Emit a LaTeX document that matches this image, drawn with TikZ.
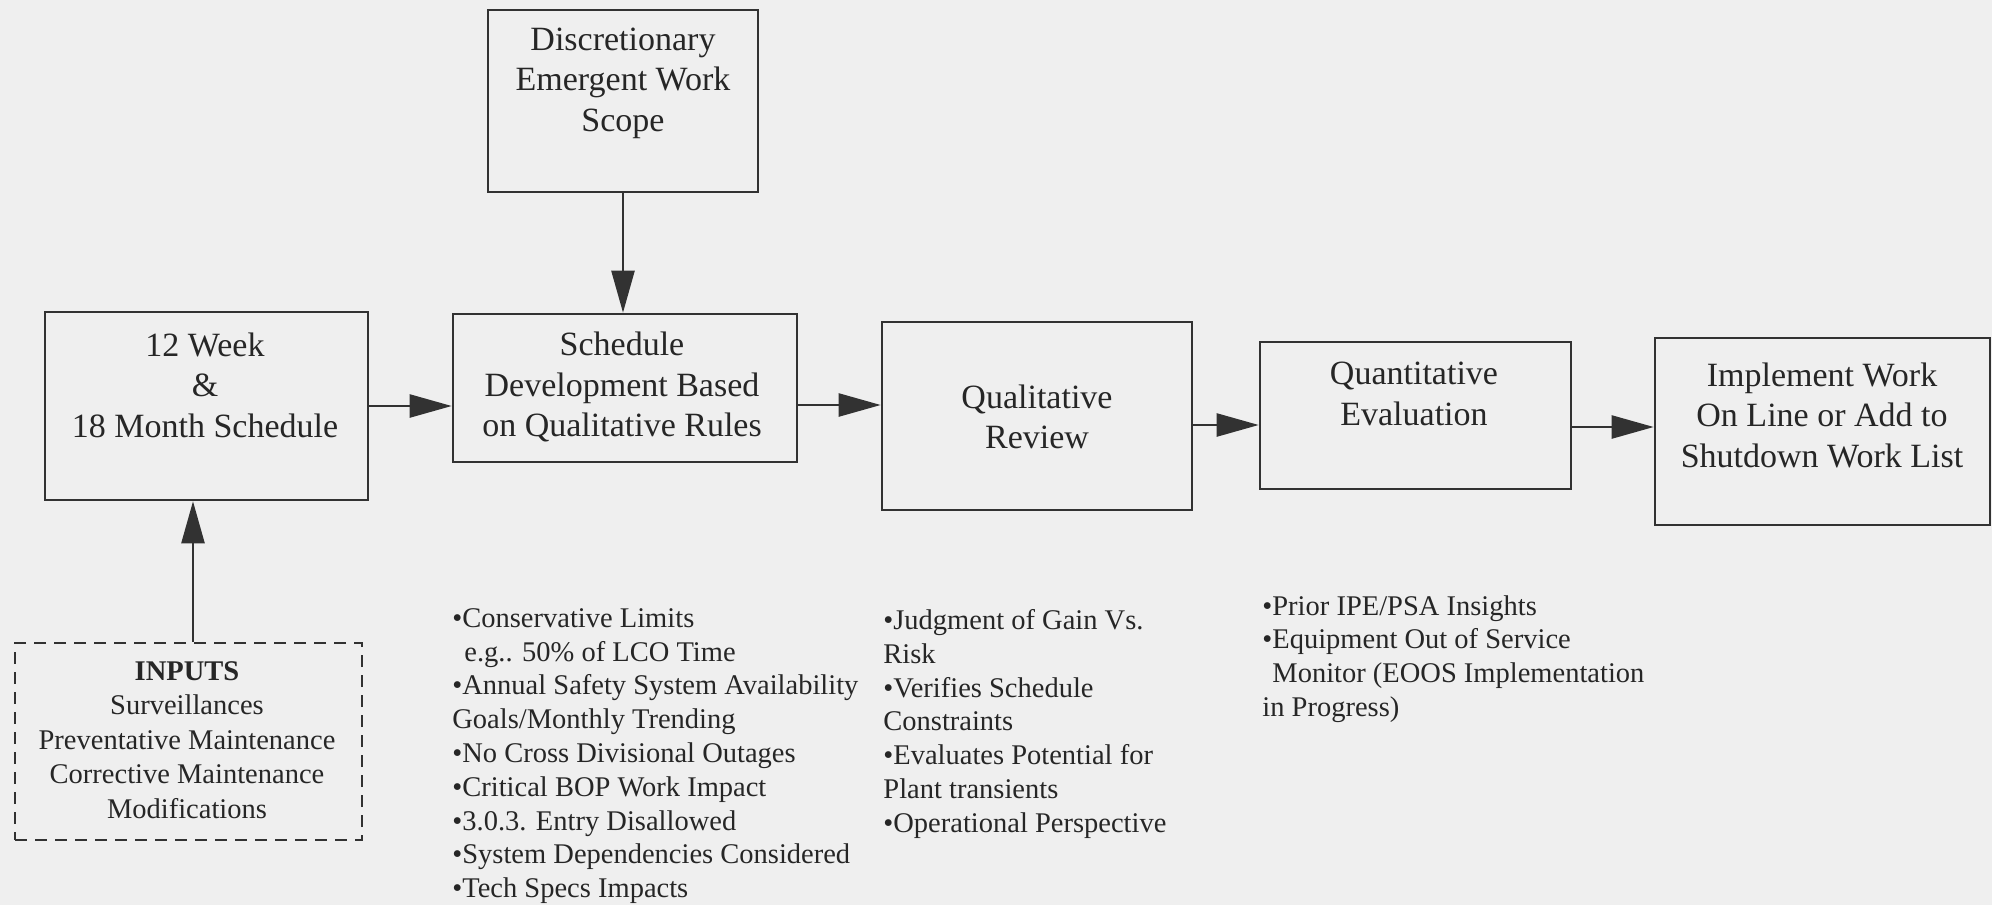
\documentclass[tikz,border=0pt]{standalone}
\usepackage{fontspec}
\setmainfont{Liberation Serif}
\usetikzlibrary{arrows.meta}
\definecolor{bg}{RGB}{239,239,239}
\definecolor{ink}{RGB}{50,50,50}
\definecolor{txt}{RGB}{38,38,38}
\tikzset{
  box/.style={draw=ink, line width=1.3pt, rectangle, inner sep=0pt},
  boxtext/.style={text=txt, align=center, inner sep=0pt, font=\fontsize{17}{20.25}\selectfont},
  listtext/.style={text=txt, align=left, inner sep=0pt, anchor=north west, font=\fontsize{14.25}{16.9}\selectfont},
  arr/.style={draw=ink, line width=1.2pt, -{Triangle[length=21pt,width=11.5pt]}},
  inbox/.style={draw=ink, line width=1.3pt, dash pattern=on 6pt off 4pt, rectangle, inner sep=0pt},
}
\begin{document}
\begin{tikzpicture}[x=0.5pt,y=-0.5pt]
\fill[bg] (0,0) rectangle (1992,905);
\useasboundingbox (0,0) rectangle (1992,905);

% boxes
\node[box, minimum width=135pt, minimum height=91pt] (disc) at (623,101) {};
\node[box, minimum width=161.5pt, minimum height=94pt] (wk) at (206.5,406) {};
\node[box, minimum width=172pt, minimum height=74pt] (sched) at (625,388) {};
\node[box, minimum width=155pt, minimum height=94pt] (qual) at (1037,416) {};
\node[box, minimum width=155.5pt, minimum height=73.5pt] (quant) at (1415.5,415.5) {};
\node[box, minimum width=167.5pt, minimum height=93.5pt] (impl) at (1822.5,431.5) {};
\node[inbox, minimum width=173.5pt, minimum height=98.5pt] (inputs) at (188.5,741.5) {};

% box texts
\node[boxtext] (disct) at (623,83) {Discretionary\\Emergent Work\\Scope};
\node[boxtext] (wkt) at (205,385) {12 Week\\\&\\18 Month Schedule};
\node[boxtext] (schedt) at (622,387) {Schedule\\Development Based\\on Qualitative Rules};
\node[boxtext] (qualt) at (1037,417) {Qualitative\\Review};
\node[boxtext] (quantt) at (1414,394) {Quantitative\\Evaluation};
\node[boxtext] (implt) at (1822,415) {Implement Work\\On Line or Add to\\Shutdown Work List};
\node[text=txt, align=center, inner sep=0pt, font=\fontsize{14.25}{17.2}\selectfont] (inputst) at (187,740)
  {\textbf{INPUTS}\\Surveillances\\Preventative Maintenance\\Corrective Maintenance\\Modifications};

% lists
\node[listtext] (list1) at (452,608) {%
•Conservative Limits\\
\hspace*{6pt}e.g.. 50\% of LCO Time\\
•Annual Safety System Availability\\
Goals/Monthly Trending\\
•No Cross Divisional Outages\\
•Critical BOP Work Impact\\
•3.0.3. Entry Disallowed\\
•System Dependencies Considered\\
•Tech Specs Impacts};
\node[listtext] (list2) at (883,609) {%
•Judgment of Gain Vs.\\
Risk\\
•Verifies Schedule\\
Constraints\\
•Evaluates Potential for\\
Plant transients\\
•Operational Perspective};
\node[listtext] (list3) at (1262,595) {%
•Prior IPE/PSA Insights\\
•Equipment Out of Service\\
\hspace*{5pt}Monitor (EOOS Implementation\\
in Progress)};

% connectors
\draw[arr] (disc.south) -- (disc.south |- sched.north);
\draw[arr] (wk.east) -- (wk.east -| sched.west);
\draw[arr] ([yshift=-8.5pt]sched.east) -- ([yshift=-8.5pt]sched.east -| qual.west);
\draw[arr] ([yshift=-4.5pt]qual.east) -- ([yshift=-4.5pt]qual.east -| quant.west);
\draw[arr] ([yshift=-5.75pt]quant.east) -- ([yshift=-5.75pt]quant.east -| impl.west);
\draw[arr] ([xshift=2.25pt]inputs.north) -- ([xshift=2.25pt]inputs.north |- wk.south);
\end{tikzpicture}
\end{document}
